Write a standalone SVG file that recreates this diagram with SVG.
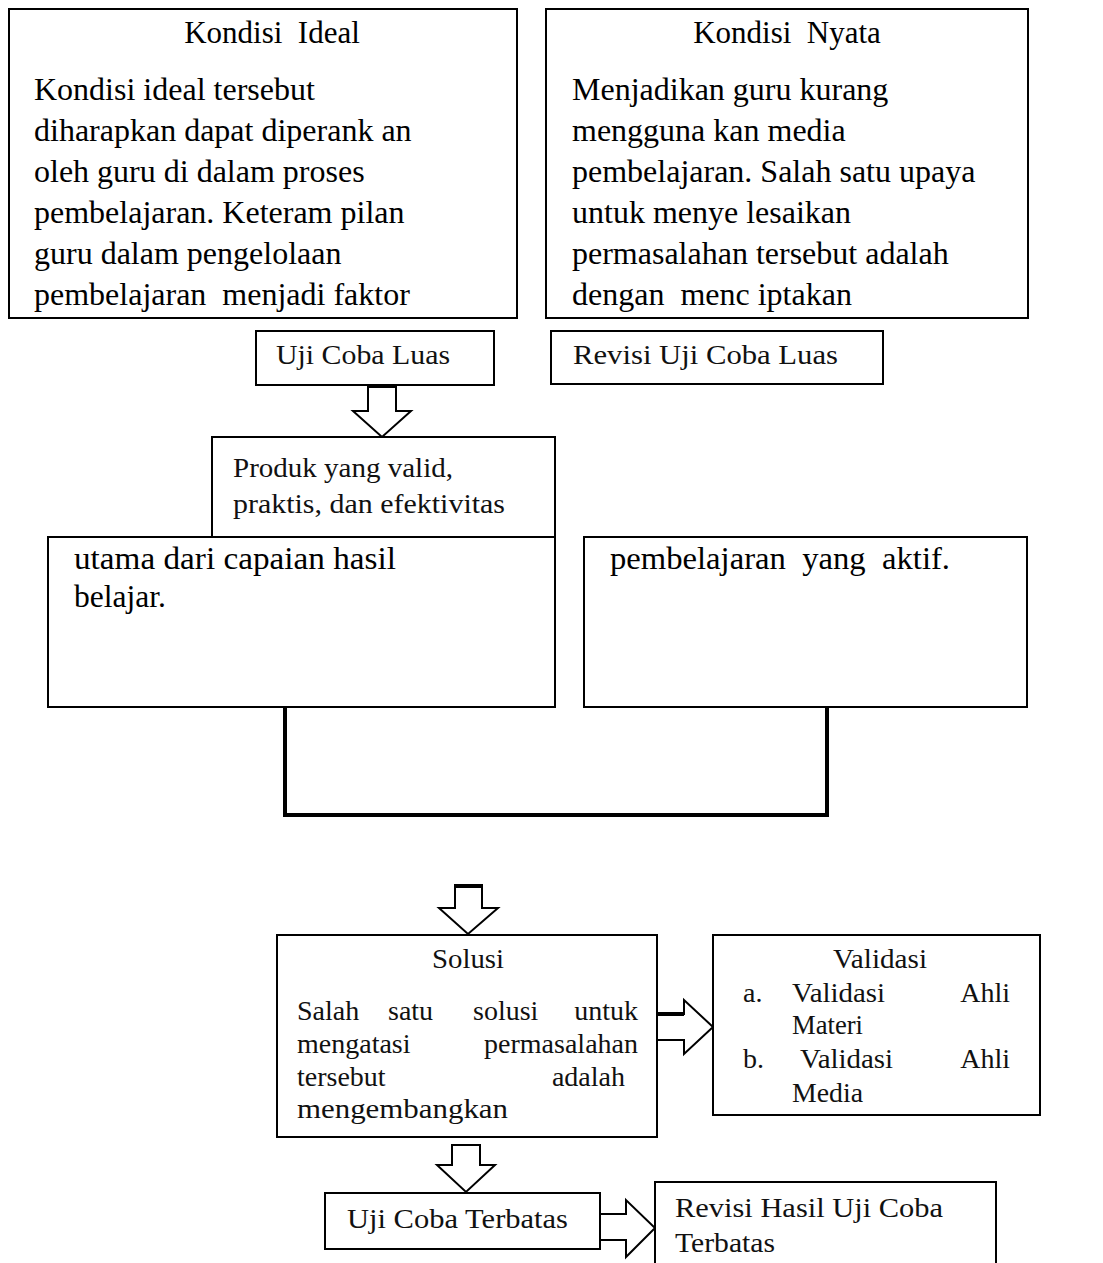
<svg xmlns="http://www.w3.org/2000/svg" width="1103" height="1263" viewBox="0 0 1103 1263">
<style>
.box{fill:#fff;stroke:#000;stroke-width:2}
.big{font-family:"Liberation Serif","Times New Roman",serif;font-size:32px;fill:#000}
.ttl{font-family:"Liberation Serif","Times New Roman",serif;font-size:31px;fill:#000}
.sm{font-family:"Liberation Serif","Times New Roman",serif;font-size:28px;fill:#111}
.arr{fill:#fff;stroke:#000;stroke-width:2;stroke-linejoin:miter}
.thick{fill:none;stroke:#000;stroke-width:4}
</style>
<rect width="1103" height="1263" fill="#fff"/>

<g id="connectors">
<path class="thick" d="M285 707 V815 H827 V707"/>
<polygon class="arr" points="368,385 396,385 396,411 411,411 382,437 353,411 368,411"/>
<line class="thick" x1="367" y1="386" x2="397" y2="386"/>
<polygon class="arr" points="455,885 482,885 482,908 498,908 468,934 439,908 455,908"/>
<line class="thick" x1="454" y1="886" x2="483" y2="886"/>
<polygon class="arr" points="452,1145 480,1145 480,1165 495,1165 466,1192 437,1165 452,1165"/>
<polygon class="arr" points="657,1014 684,1014 684,1000 713,1027 684,1054 684,1040 657,1040"/>
<line class="thick" x1="657" y1="1014" x2="684" y2="1014"/>
<polygon class="arr" points="600,1214 626,1214 626,1200 655,1228 626,1257 626,1240 600,1240"/>
</g>

<g id="node-kondisi-ideal">
<rect class="box" x="9" y="9" width="508" height="309"/>
<text class="ttl" x="272" y="43" text-anchor="middle" xml:space="preserve">Kondisi  Ideal</text>
<text class="big" x="34" y="100">Kondisi ideal tersebut</text>
<text class="big" x="34" y="141">diharapkan dapat diperank an</text>
<text class="big" x="34" y="182">oleh guru di dalam proses</text>
<text class="big" x="34" y="223">pembelajaran. Keteram pilan</text>
<text class="big" x="34" y="264">guru dalam pengelolaan</text>
<text class="big" x="34" y="305" xml:space="preserve">pembelajaran  menjadi faktor</text>
</g>

<g id="node-kondisi-nyata">
<rect class="box" x="546" y="9" width="482" height="309"/>
<text class="ttl" x="787" y="43" text-anchor="middle" xml:space="preserve">Kondisi  Nyata</text>
<text class="big" x="572" y="100">Menjadikan guru kurang</text>
<text class="big" x="572" y="141">mengguna kan media</text>
<text class="big" x="572" y="182">pembelajaran. Salah satu upaya</text>
<text class="big" x="572" y="223">untuk menye lesaikan</text>
<text class="big" x="572" y="264">permasalahan tersebut adalah</text>
<text class="big" x="572" y="305" xml:space="preserve">dengan  menc iptakan</text>
</g>

<g id="node-uji-coba-luas">
<rect class="box" x="256" y="331" width="238" height="54"/>
<text class="sm" x="276" y="364" textLength="174" lengthAdjust="spacingAndGlyphs">Uji Coba Luas</text>
</g>

<g id="node-revisi-uji-coba-luas">
<rect class="box" x="551" y="331" width="332" height="53"/>
<text class="sm" x="573" y="364" textLength="265" lengthAdjust="spacingAndGlyphs">Revisi Uji Coba Luas</text>
</g>

<g id="node-produk">
<rect class="box" x="212" y="437" width="343" height="100"/>
<text class="sm" x="233" y="477" textLength="220" lengthAdjust="spacingAndGlyphs">Produk yang valid,</text>
<text class="sm" x="233" y="513" textLength="272" lengthAdjust="spacingAndGlyphs">praktis, dan efektivitas</text>
</g>

<g id="node-ideal-lanjutan">
<rect class="box" x="48" y="537" width="507" height="170"/>
<text class="big" x="74" y="569" textLength="322" lengthAdjust="spacingAndGlyphs">utama dari capaian hasil</text>
<text class="big" x="74" y="607" textLength="92" lengthAdjust="spacingAndGlyphs">belajar.</text>
</g>

<g id="node-nyata-lanjutan">
<rect class="box" x="584" y="537" width="443" height="170"/>
<text class="big" x="610" y="569" textLength="340" lengthAdjust="spacingAndGlyphs" xml:space="preserve">pembelajaran  yang  aktif.</text>
</g>

<g id="node-solusi">
<rect class="box" x="277" y="935" width="380" height="202"/>
<text class="sm" x="468" y="968" text-anchor="middle" textLength="72" lengthAdjust="spacingAndGlyphs">Solusi</text>
<text class="sm" x="297" y="1020">Salah</text>
<text class="sm" x="388" y="1020">satu</text>
<text class="sm" x="473" y="1020">solusi</text>
<text class="sm" x="638" y="1020" text-anchor="end">untuk</text>
<text class="sm" x="297" y="1053">mengatasi</text>
<text class="sm" x="638" y="1053" text-anchor="end">permasalahan</text>
<text class="sm" x="297" y="1086">tersebut</text>
<text class="sm" x="625" y="1086" text-anchor="end">adalah</text>
<text class="sm" x="297" y="1118" textLength="211" lengthAdjust="spacingAndGlyphs">mengembangkan</text>
</g>

<g id="node-validasi">
<rect class="box" x="713" y="935" width="327" height="180"/>
<text class="sm" x="880" y="968" text-anchor="middle" textLength="94" lengthAdjust="spacingAndGlyphs">Validasi</text>
<text class="sm" x="743" y="1002">a.</text>
<text class="sm" x="792" y="1002" textLength="93" lengthAdjust="spacingAndGlyphs">Validasi</text>
<text class="sm" x="1010" y="1002" text-anchor="end">Ahli</text>
<text class="sm" x="792" y="1034" textLength="71" lengthAdjust="spacingAndGlyphs">Materi</text>
<text class="sm" x="743" y="1068">b.</text>
<text class="sm" x="800" y="1068" textLength="93" lengthAdjust="spacingAndGlyphs">Validasi</text>
<text class="sm" x="1010" y="1068" text-anchor="end">Ahli</text>
<text class="sm" x="792" y="1102" textLength="71" lengthAdjust="spacingAndGlyphs">Media</text>
</g>

<g id="node-uji-coba-terbatas">
<rect class="box" x="325" y="1193" width="275" height="56"/>
<text class="sm" x="347" y="1228" textLength="221" lengthAdjust="spacingAndGlyphs">Uji Coba Terbatas</text>
</g>

<g id="node-revisi-hasil">
<path class="box" d="M655 1265 V1182 H996 V1265"/>
<text class="sm" x="675" y="1217" textLength="268" lengthAdjust="spacingAndGlyphs">Revisi Hasil Uji Coba</text>
<text class="sm" x="675" y="1252" textLength="100" lengthAdjust="spacingAndGlyphs">Terbatas</text>
</g>
</svg>
